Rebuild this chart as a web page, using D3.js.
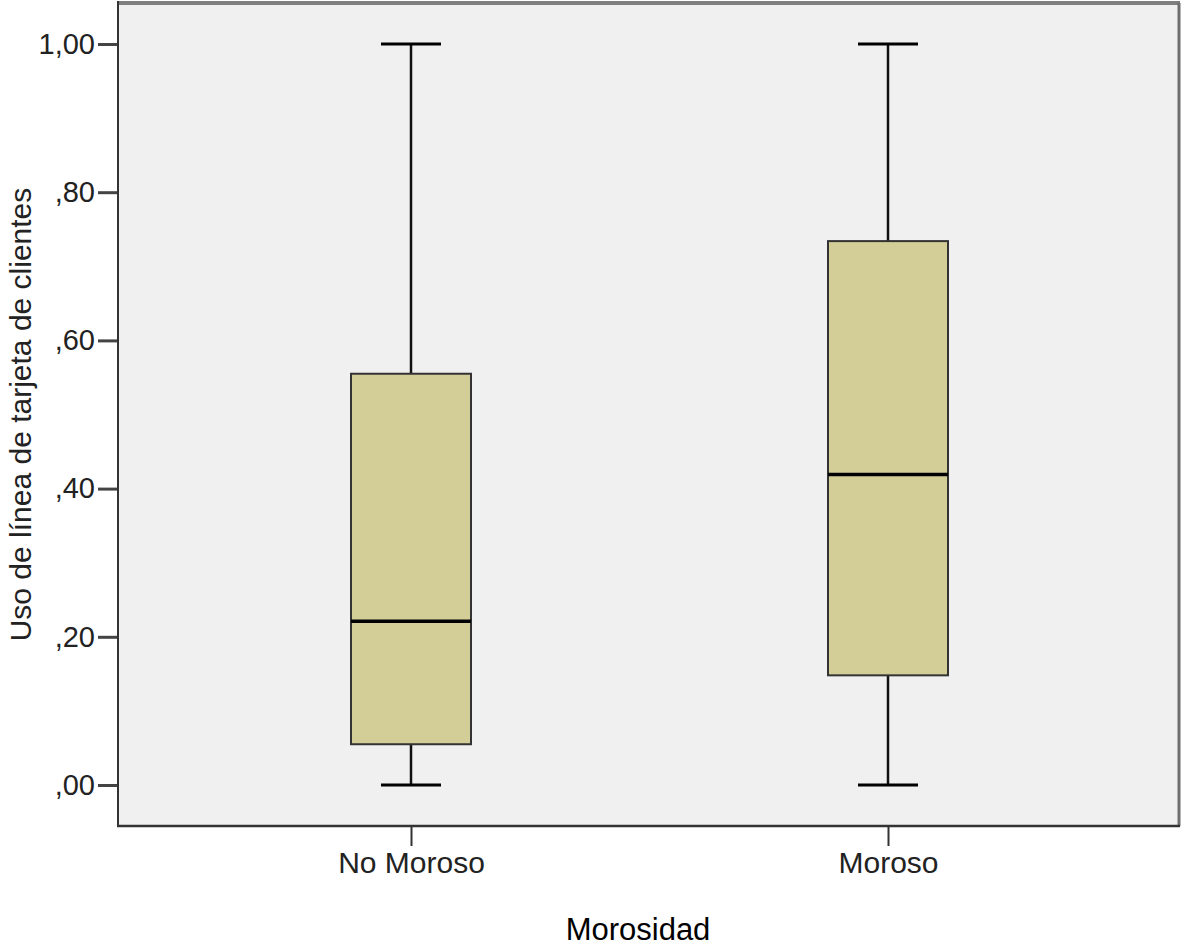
<!DOCTYPE html>
<html>
<head>
<meta charset="utf-8">
<script src="https://cdn.jsdelivr.net/npm/d3@7"></script>
<style>
  html, body { margin: 0; padding: 0; background: #fff; }
  svg { display: block; font-family: "Liberation Sans", Arial, sans-serif; }
</style>
</head>
<body>
<svg id="chart" width="1182" height="946"></svg>
<script>
// Box-plot summaries per group
const categories = ["No Moroso", "Moroso"];
const whiskerLow = [0.00, 0.00];
const q1 = [0.055, 0.148];
const median = [0.221, 0.419];
const q3 = [0.555, 0.734];
const whiskerHigh = [1.00, 1.00];
const yTicks = [0, 0.2, 0.4, 0.6, 0.8, 1.0];
const yTickLabels = [",00", ",20", ",40", ",60", ",80", "1,00"];

const svg = d3.select("#chart");
const plot = { left: 118, right: 1179, top: 3, bottom: 826 };

const x = d3.scalePoint()
  .domain(categories)
  .range([411, 888]);
const y = d3.scaleLinear()
  .domain([0, 1])
  .range([785, 44]);

// Plot background and frame
svg.append("rect")
  .attr("x", plot.left).attr("y", plot.top)
  .attr("width", plot.right - plot.left).attr("height", plot.bottom - plot.top)
  .attr("fill", "#f0f0f0");
svg.append("line")
  .attr("x1", plot.left).attr("x2", plot.right + 1)
  .attr("y1", plot.top).attr("y2", plot.top)
  .attr("stroke", "#7f7f7f").attr("stroke-width", 4);
svg.append("line")
  .attr("x1", plot.right).attr("x2", plot.right)
  .attr("y1", plot.top).attr("y2", plot.bottom)
  .attr("stroke", "#6f6f6f").attr("stroke-width", 3);

// Y axis
const yAxis = d3.axisLeft(y)
  .tickValues(yTicks)
  .tickFormat((d, i) => yTickLabels[i])
  .tickSizeInner(20).tickSizeOuter(0).tickPadding(3);
const gy = svg.append("g")
  .attr("transform", `translate(${plot.left},0)`)
  .call(yAxis);
gy.select(".domain").remove();
gy.selectAll(".tick line").attr("stroke", "#444").attr("stroke-width", 3);
gy.selectAll(".tick text")
  .attr("font-size", 29).attr("fill", "#222");

// X axis
const xAxis = d3.axisBottom(x)
  .tickSizeInner(20).tickSizeOuter(0).tickPadding(6);
const gx = svg.append("g")
  .attr("transform", `translate(0,${plot.bottom})`)
  .call(xAxis);
gx.select(".domain").remove();
gx.selectAll(".tick line").attr("stroke", "#333").attr("stroke-width", 2);
gx.selectAll(".tick text")
  .attr("font-size", 30).attr("fill", "#222");

// Axis lines (left and bottom)
svg.append("line")
  .attr("x1", plot.left).attr("x2", plot.left)
  .attr("y1", plot.top - 2).attr("y2", plot.bottom + 1)
  .attr("stroke", "#333").attr("stroke-width", 2);
svg.append("line")
  .attr("x1", plot.left - 1).attr("x2", plot.right + 1)
  .attr("y1", plot.bottom).attr("y2", plot.bottom)
  .attr("stroke", "#333").attr("stroke-width", 2.5);

// Boxes
const boxW = 120, capW = 60;
const groups = svg.append("g").selectAll("g")
  .data(categories.map((c, i) => ({
    c, lo: whiskerLow[i], q1: q1[i], med: median[i], q3: q3[i], hi: whiskerHigh[i]
  })))
  .join("g");

groups.append("line")
  .attr("x1", d => x(d.c)).attr("x2", d => x(d.c))
  .attr("y1", d => y(d.hi)).attr("y2", d => y(d.q3))
  .attr("stroke", "#111").attr("stroke-width", 2.5);
groups.append("line")
  .attr("x1", d => x(d.c)).attr("x2", d => x(d.c))
  .attr("y1", d => y(d.q1)).attr("y2", d => y(d.lo))
  .attr("stroke", "#111").attr("stroke-width", 2.5);
groups.append("line")
  .attr("x1", d => x(d.c) - capW / 2).attr("x2", d => x(d.c) + capW / 2)
  .attr("y1", d => y(d.hi)).attr("y2", d => y(d.hi))
  .attr("stroke", "#000").attr("stroke-width", 3);
groups.append("line")
  .attr("x1", d => x(d.c) - capW / 2).attr("x2", d => x(d.c) + capW / 2)
  .attr("y1", d => y(d.lo)).attr("y2", d => y(d.lo))
  .attr("stroke", "#000").attr("stroke-width", 3);
groups.append("rect")
  .attr("x", d => x(d.c) - boxW / 2).attr("width", boxW)
  .attr("y", d => y(d.q3)).attr("height", d => y(d.q1) - y(d.q3))
  .attr("fill", "#d3ce98").attr("stroke", "#333").attr("stroke-width", 2);
groups.append("line")
  .attr("x1", d => x(d.c) - boxW / 2).attr("x2", d => x(d.c) + boxW / 2)
  .attr("y1", d => y(d.med)).attr("y2", d => y(d.med))
  .attr("stroke", "#000").attr("stroke-width", 3.5);

// Axis titles
svg.append("text")
  .attr("x", 638).attr("y", 940)
  .attr("text-anchor", "middle")
  .attr("font-size", 31).attr("fill", "#000")
  .text("Morosidad");
svg.append("text")
  .attr("transform", `translate(31,${(plot.top + plot.bottom) / 2}) rotate(-90)`)
  .attr("text-anchor", "middle")
  .attr("font-size", 30).attr("fill", "#222")
  .text("Uso de línea de tarjeta de clientes");
</script>
</body>
</html>
